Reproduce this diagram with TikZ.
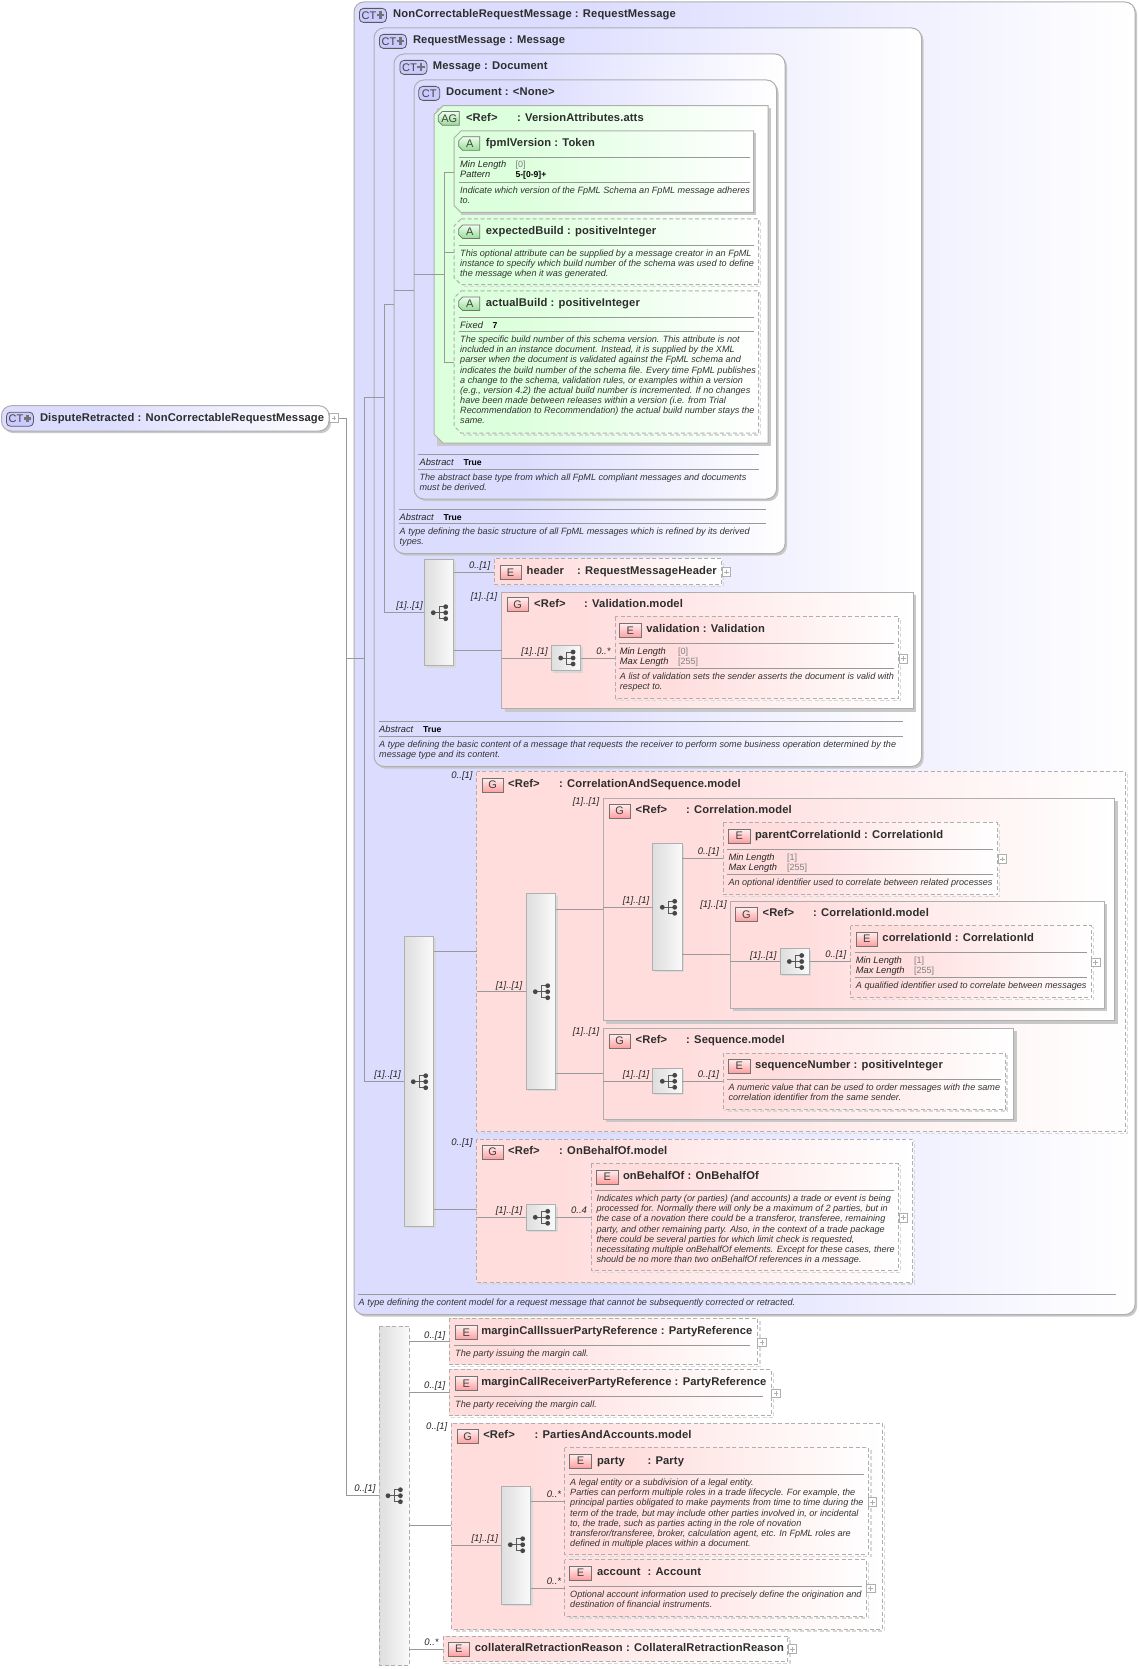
\documentclass[tikz,border=0pt]{standalone}
\usepackage{fontspec}
\setmainfont{Liberation Sans}
\newfontfamily\ttlfont[LetterSpace=1]{Liberation Sans}
\definecolor{ctc}{RGB}{220,220,255}
\definecolor{pkc}{RGB}{255,221,221}
\definecolor{grc}{RGB}{220,255,220}
\definecolor{lnc}{RGB}{153,153,153}
\definecolor{txc}{RGB}{45,45,45}
\definecolor{bdc}{RGB}{175,175,175}
\definecolor{shc}{RGB}{200,200,200}
\definecolor{agb}{RGB}{150,220,150}
\pgfdeclareverticalshading{ctsh}{100bp}{color(0bp)=(white);color(25bp)=(white);color(60bp)=(ctc);color(75bp)=(ctc);color(100bp)=(ctc)}
\pgfdeclareverticalshading{pksh}{100bp}{color(0bp)=(white);color(25bp)=(white);color(65bp)=(pkc);color(75bp)=(pkc);color(100bp)=(pkc)}
\pgfdeclareverticalshading{grsh}{100bp}{color(0bp)=(white);color(25bp)=(white);color(65bp)=(grc);color(75bp)=(grc);color(100bp)=(grc)}
\newcounter{auton}
\newcommand\nx{\stepcounter{auton}}
\tikzset{
 conn/.style={draw=lnc,line width=.8pt},
 dsh/.style={dash pattern=on 4pt off 2.5pt},
 sepl/.style={draw=lnc,line width=.8pt},
 ttl/.style={anchor=base west,inner sep=0pt,text=txc,font=\fontsize{11.2}{13}\ttlfont\bfseries},
 mult/.style={inner sep=0pt,text=black!85,font=\fontsize{9.5}{11}\selectfont\itshape},
 keyt/.style={anchor=base west,inner sep=0pt,text=black!85,font=\fontsize{9.3}{10.1}\selectfont\itshape},
 valg/.style={anchor=base west,inner sep=0pt,text=black!50,font=\fontsize{9}{10}\selectfont},
 valb/.style={anchor=base west,inner sep=0pt,text=black,font=\fontsize{8.6}{10}\selectfont\bfseries},
 dsct/.style={anchor=north west,inner sep=0pt,align=left,text=black!80,font=\fontsize{9.1}{10.1}\selectfont\itshape},
 badge/.style={anchor=north west,inner sep=0pt,minimum width=21.4pt,minimum height=14pt,text=black!75,font=\fontsize{11}{11}\selectfont},
 holder/.style={inner sep=0pt,outer sep=0pt}
}
% placeholder node carrying the name of a box
\newcommand\nm[5]{\pgfmathsetmacro\bw{#4-#2}\pgfmathsetmacro\bh{#5-#3}%
 \node[holder,anchor=north west,minimum width=\bw pt,minimum height=\bh pt] (#1) at (#2,#3) {};}
\newcommand\ctbox[5]{%
 \fill[shc,rounded corners=10pt] ({#2+2},{#3+2.2}) rectangle ({#4+2},{#5+2.2});
 \path[draw=bdc,line width=1pt,shade,shading=ctsh,shading angle=90,rounded corners=10pt] (#2,#3) rectangle (#4,#5);
 \nm{#1}{#2}{#3}{#4}{#5}}
\newcommand\gbox[5]{%
 \fill[shc] ({#2+3},{#3+3}) rectangle ({#4+3},{#5+3});
 \path[draw=bdc,line width=1pt,shade,shading=pksh,shading angle=90] (#2,#3) rectangle (#4,#5);
 \nm{#1}{#2}{#3}{#4}{#5}}
\newcommand\dbox[5]{%
 \draw[shc!70,line width=1.4pt,dsh] ({#2+2},{#3+2}) rectangle ({#4+2},{#5+2});
 \path[shade,shading=pksh,shading angle=90] (#2,#3) rectangle (#4,#5);
 \draw[bdc,line width=1pt,dsh] (#2,#3) rectangle (#4,#5);
 \nm{#1}{#2}{#3}{#4}{#5}}
\newcommand\chpath[5]{({#2+#1},#3) -- (#4,#3) -- (#4,#5) -- ({#2+#1},#5) -- (#2,{#5-#1}) -- (#2,{#3+#1}) -- cycle}
\newcommand\agbox[5]{%
 \fill[shc] ({#2+2.5},{#3+2.5}) rectangle ({#4+2.5},{#5+2.5});
 \path[draw=bdc,line width=1pt,shade,shading=grsh,shading angle=90] \chpath{9}{#2}{#3}{#4}{#5};
 \nm{#1}{#2}{#3}{#4}{#5}}
\newcommand\abox[5]{%
 \fill[shc] ({#2+7},{#3+2.5}) rectangle ({#4+2.5},{#5+2.5});
 \path[draw=bdc,line width=1pt,shade,shading=grsh,shading angle=90] \chpath{7}{#2}{#3}{#4}{#5};
 \nm{#1}{#2}{#3}{#4}{#5}}
\newcommand\adbox[5]{%
 \draw[shc!70,line width=1.4pt,dsh] ({#2+9},{#3+2}) -- ({#4+2},{#3+2}) -- ({#4+2},{#5+2}) -- ({#2+9},{#5+2});
 \path[shade,shading=grsh,shading angle=90] \chpath{7}{#2}{#3}{#4}{#5};
 \draw[bdc,line width=1pt,dsh] \chpath{7}{#2}{#3}{#4}{#5};
 \nm{#1}{#2}{#3}{#4}{#5}}
\newcommand\seqbox[5]{%
 \fill[shc!70] ({#2+2},{#3+2}) rectangle ({#4+2},{#5+2});
 \draw[bdc,line width=1pt,left color=black!13,right color=black!2] (#2,#3) rectangle (#4,#5);
 \nm{#1}{#2}{#3}{#4}{#5}}
\newcommand\seqdbox[5]{%
 \path[left color=black!13,right color=black!2] (#2,#3) rectangle (#4,#5);
 \draw[bdc,line width=1pt,dsh] (#2,#3) rectangle (#4,#5);
 \nm{#1}{#2}{#3}{#4}{#5}}
% sequence glyph at centre x,y
\newcommand\seqicon[2]{\begin{scope}[shift={(#1,#2)}]
 \draw[black!65,line width=.9pt] (-6.7,0) -- (5.7,0) (5.7,-6) -- (-.7,-6) -- (-.7,6) -- (5.7,6);
 \fill[black!72] (-6.7,0) circle (2.4pt) (5.7,-6) circle (2.4pt) (5.7,0) circle (2.4pt) (5.7,6) circle (2.4pt);
 \end{scope}}
\newcommand\plusb[2]{\draw[bdc,fill=white,line width=.7pt] ({#1-4.2},{#2-4.4}) rectangle ({#1+4.2},{#2+4.4});
 \draw[bdc,line width=.7pt] ({#1-2.4},#2) -- ({#1+2.4},#2) (#1,{#2-2.4}) -- (#1,{#2+2.4});}
\newcommand\ttl[3]{\nx\node[ttl] (n\theauton) at (#1,{#2+.4}) {#3};}
\newcommand\ttlg[5]{\nx\node[ttl] (n\theauton) at (#1,{#2+.4}) {#3};\nx\node[ttl] (n\theauton) at (#4,{#2+.4}) {#5};}
\newcommand\mlt[3]{\nx\node[mult] (n\theauton) at (#1,#2) {#3};}
\newcommand\dsc[3]{\nx\node[dsct] (n\theauton) at (#1,{#2-7.5}) {\rule{0pt}{7.5pt}#3};}
\newcommand\key[3]{\nx\node[keyt] (n\theauton) at (#1,#2) {#3};}
\newcommand\vg[3]{\nx\node[valg] (n\theauton) at (#1,#2) {#3};}
\newcommand\vb[3]{\nx\node[valb] (n\theauton) at (#1,#2) {#3};}
\newcommand\sep[3]{\draw[sepl] (#1,#3) -- (#2,#3);}
\newcommand\bE[3]{\nx\node[badge,draw=black!55,line width=.7pt,top color=pkc!45,bottom color=red!38] (n\theauton) at (#1,#2) {#3};}
\newcommand\bCT[4]{\nx\node[badge,draw=black!65,line width=.8pt,rounded corners=4pt,fill=ctc!92!blue,minimum width=#3pt,text=black!75] (n\theauton) at (#1,#2) {#4};}
\newcommand\plusg[2]{\draw[black!55,line width=2.4pt] ({#1-3.8+1},#2) -- ({#1+3.8+1},#2) ({#1+1},{#2-3.8}) -- ({#1+1},{#2+3.8});}
\newcommand\bA[3]{\path[draw=black!55,line width=.7pt,top color=grc!50,bottom color=agb] ({#1+4},#2) -- ({#1+21},#2) -- ({#1+21},{#2+13.6}) -- ({#1+4},{#2+13.6}) -- (#1,{#2+9.6}) -- (#1,{#2+4}) -- cycle;
 \nx\node[inner sep=0pt,text=black!75,font=\fontsize{11}{11}\selectfont] (n\theauton) at ({#1+11},{#2+6.8}) {#3};}
\begin{document}
\begin{tikzpicture}[x=1pt,y=-1pt]
\useasboundingbox (0,0) rectangle (1139,1669);
\fill[white] (0,0) rectangle (1139,1669);
% ---- boxes
\ctbox{disp}{1.5}{405.7}{329}{431}
\ctbox{ctA}{354}{2}{1135}{1314.5}
\ctbox{ctB}{374}{28}{921.5}{766.5}
\ctbox{ctC}{394}{54}{785}{553.5}
\ctbox{ctD}{414}{80}{776.5}{499}
\agbox{ag}{434}{105.7}{768}{443}
\abox{fpml}{454}{131}{753.6}{212.5}
\adbox{expb}{454}{219}{758.7}{284.6}
\adbox{actb}{454}{291}{758.7}{433}
\seqbox{sqA}{424}{559}{453.6}{665.7}
\dbox{hdr}{494}{558.7}{721.7}{584.3}
\gbox{gval}{501.5}{592}{913}{708.7}
\seqbox{sqB}{551}{645.3}{580.5}{670.7}
\dbox{vald}{615}{616.7}{898.5}{698.7}
\seqbox{sqC}{404}{936}{433.8}{1226}
\dbox{gcas}{476.6}{771.7}{1125.7}{1131.7}
\seqbox{sqD}{526}{893.7}{555.5}{1089.3}
\gbox{gcor}{603.4}{798}{1114.5}{1020.7}
\seqbox{sqE}{652.9}{843.7}{682.4}{970.3}
\dbox{pcid}{723}{822.7}{997.3}{894.7}
\gbox{gcid}{730.3}{901}{1104.3}{1008}
\seqbox{sqF}{780.3}{948.7}{809.3}{974}
\dbox{cid}{850.6}{925.7}{1091.6}{997.7}
\gbox{gseq}{603.4}{1028.3}{1013.6}{1119}
\seqbox{sqG}{652.9}{1068.3}{682.4}{1093.3}
\dbox{sqn}{723}{1053}{1005}{1109}
\dbox{gobo}{476.6}{1139.3}{912.7}{1282}
\seqbox{sqH}{526}{1204.7}{555.5}{1230}
\dbox{obo}{591.2}{1163.7}{898.5}{1270.3}
\seqdbox{sqI}{379}{1326}{409.3}{1665}
\dbox{iss}{449.6}{1318.3}{757.8}{1364.7}
\dbox{rcv}{449.6}{1369.3}{771.6}{1415.7}
\dbox{gpa}{451.4}{1423.3}{882.3}{1629}
\seqbox{sqJ}{501}{1486}{530.6}{1604.3}
\dbox{pty}{564.6}{1447.7}{868.9}{1554.3}
\dbox{acc}{564.6}{1559.7}{866.6}{1616}
\dbox{col}{443}{1636}{787.8}{1661.7}
% ---- connectors
\coordinate (jA) at (346.5,418);
\coordinate (jB) at (346.5,1495);
\coordinate (jC) at (346.5,658);
\coordinate (jD) at (364.5,658);
\coordinate (jE) at (364.5,397);
\coordinate (jF) at (364.5,1081.7);
\coordinate (jG) at (384.7,397);
\coordinate (jH) at (384.7,304);
\coordinate (jI) at (384.7,612.7);
\coordinate (jJ) at (444.4,274);
\coordinate (jK) at (444.4,172);
\coordinate (jL) at (444.4,362);
\coordinate (jM) at (444.4,252);
\draw[conn] (disp.east |- jA) -- (jA) -- (jB) -- (sqI.west |- jB);
\draw[conn] (jC) -- (jD);
\draw[conn] (jG) -- (jE) -- (jF) -- (sqC.west |- jF);
\draw[conn] (jH) -- (jI) -- (sqA.west |- jI);
\draw[conn] (jH) -- (ctC.west |- jH);
\draw[conn] (ctC.west |- 0,290.4) -- (ctD.west |- 0,290.4);
\draw[conn] (ctD.west |- jJ) -- (jJ);
\draw[conn] (jK) -- (jL);
\draw[conn] (jK) -- (fpml.west |- jK);
\draw[conn] (jM) -- (expb.west |- jM);
\draw[conn] (jL) -- (actb.west |- jL);
\draw[conn] (sqA.east |- 0,572.3) -- (hdr.west |- 0,572.3);
\draw[conn] (sqA.east |- 0,650.3) -- (gval.west |- 0,650.3);
\draw[conn] (gval.west |- 0,658.3) -- (sqB.west |- 0,658.3);
\draw[conn] (sqB.east |- 0,658.3) -- (vald.west |- 0,658.3);
\draw[conn] (sqC.east |- 0,951.7) -- (gcas.west |- 0,951.7);
\draw[conn] (sqC.east |- 0,1209.3) -- (gobo.west |- 0,1209.3);
\draw[conn] (gcas.west |- 0,991.3) -- (sqD.west |- 0,991.3);
\draw[conn] (sqD.east |- 0,909.3) -- (gcor.west |- 0,909.3);
\draw[conn] (sqD.east |- 0,1073.3) -- (gseq.west |- 0,1073.3);
\draw[conn] (gcor.west |- 0,907.3) -- (sqE.west |- 0,907.3);
\draw[conn] (sqE.east |- 0,858.3) -- (pcid.west |- 0,858.3);
\draw[conn] (sqE.east |- 0,954.3) -- (gcid.west |- 0,954.3);
\draw[conn] (gcid.west |- 0,961.5) -- (sqF.west |- 0,961.5);
\draw[conn] (sqF.east |- 0,961.5) -- (cid.west |- 0,961.5);
\draw[conn] (gseq.west |- 0,1081.3) -- (sqG.west |- 0,1081.3);
\draw[conn] (sqG.east |- 0,1081.3) -- (sqn.west |- 0,1081.3);
\draw[conn] (gobo.west |- 0,1217.3) -- (sqH.west |- 0,1217.3);
\draw[conn] (sqH.east |- 0,1217.3) -- (obo.west |- 0,1217.3);
\draw[conn] (sqI.east |- 0,1341.3) -- (iss.west |- 0,1341.3);
\draw[conn] (sqI.east |- 0,1392.3) -- (rcv.west |- 0,1392.3);
\draw[conn] (sqI.east |- 0,1525.3) -- (gpa.west |- 0,1525.3);
\draw[conn] (sqI.east |- 0,1649.3) -- (col.west |- 0,1649.3);
\draw[conn] (gpa.west |- 0,1545.3) -- (sqJ.west |- 0,1545.3);
\draw[conn] (sqJ.east |- 0,1501.3) -- (pty.west |- 0,1501.3);
\draw[conn] (sqJ.east |- 0,1588.3) -- (acc.west |- 0,1588.3);
% ---- seq glyphs
\seqicon{440}{612.7}\seqicon{567.4}{658}\seqicon{420}{1081.7}\seqicon{542}{991.7}
\seqicon{669}{907.3}\seqicon{796}{961.5}\seqicon{669}{1081.3}\seqicon{542}{1217.3}
\seqicon{394.7}{1495.7}\seqicon{517}{1544.7}
% ---- expand boxes
\plusb{334}{418}\plusb{726.3}{572}\plusb{903.5}{658.5}\plusb{1002.2}{859}\plusb{1095.8}{962.3}
\plusb{903.3}{1217.5}\plusb{762}{1342.3}\plusb{776}{1393.3}\plusb{872.5}{1502.2}\plusb{870.8}{1588.3}\plusb{792.6}{1649.2}
% ---- badges and titles
\bCT{6}{411.8}{27}{\hspace{-8pt}CT}\plusg{26.5}{418.6}
\ttl{39.8}{421}{DisputeRetracted : NonCorrectableRequestMessage}
\bCT{359}{8}{27}{\hspace{-8pt}CT}\plusg{379.5}{14.8}
\ttl{393}{17.5}{NonCorrectableRequestMessage : RequestMessage}
\bCT{379}{34}{27}{\hspace{-8pt}CT}\plusg{399.5}{40.8}
\ttl{412.8}{43}{RequestMessage : Message}
\bCT{399.5}{60}{27}{\hspace{-8pt}CT}\plusg{420}{66.8}
\ttl{432.7}{69}{Message : Document}
\bCT{418.4}{86}{21}{CT}
\ttl{446}{95}{Document : <None>}
\bA{438.3}{111.6}{AG}
\ttlg{465.8}{121}{<Ref>}{516.8}{: VersionAttributes.atts}
\bA{458.7}{136.8}{A}
\ttl{485.7}{146}{fpmlVersion : Token}
\sep{458.7}{750}{157}
\key{460}{168}{Min Length}\vg{515.3}{168}{[0]}
\key{460}{178}{Pattern}\vb{515.3}{178}{5-[0-9]+}
\sep{458.7}{750}{182}
\dsc{460}{193.5}{Indicate which version of the FpML Schema an FpML message adheres\\to.}
\bA{458.7}{225}{A}
\ttl{485.7}{234}{expectedBuild : positiveInteger}
\sep{458.7}{754}{245.4}
\dsc{460}{256.5}{This optional attribute can be supplied by a message creator in an FpML\\instance to specify which build number of the schema was used to define\\the message when it was generated.}
\bA{458.7}{297}{A}
\ttl{485.7}{306}{actualBuild : positiveInteger}
\sep{458.7}{754}{317}
\key{460}{328}{Fixed}\vb{492.3}{328}{7}
\sep{458.7}{754}{331.4}
\dsc{460}{342.5}{The specific build number of this schema version. This attribute is not\\included in an instance document. Instead, it is supplied by the XML\\parser when the document is validated against the FpML schema and\\indicates the build number of the schema file. Every time FpML publishes\\a change to the schema, validation rules, or examples within a version\\(e.g., version 4.2) the actual build number is incremented. If no changes\\have been made between releases within a version (i.e. from Trial\\Recommendation to Recommendation) the actual build number stays the\\same.}
% Document footer
\sep{418.4}{758.7}{454.3}
\key{419.4}{465}{Abstract}\vb{463.3}{465}{True}
\sep{418.4}{758.7}{469.3}
\dsc{419.4}{480.3}{The abstract base type from which all FpML compliant messages and documents\\must be derived.}
% Message footer
\sep{398.5}{765.8}{509.3}
\key{399.5}{520}{Abstract}\vb{443.4}{520}{True}
\sep{398.5}{765.8}{523.2}
\dsc{399.5}{534.5}{A type defining the basic structure of all FpML messages which is refined by its derived\\types.}
% header
\bE{499.5}{565}{E}
\ttlg{526.5}{574.3}{header}{577}{: RequestMessageHeader}
\mlt{479.6}{565.7}{0..[1]}
% validation
\mlt{484}{596.7}{[1]..[1]}\mlt{534.6}{652}{[1]..[1]}\mlt{603.4}{651.7}{0..*}\mlt{409.5}{606.5}{[1]..[1]}
\bE{506.6}{597.3}{G}
\ttlg{534}{607.3}{<Ref>}{584}{: Validation.model}
\bE{619.2}{623}{E}
\ttl{646.2}{632.3}{validation : Validation}
\sep{618.7}{894.4}{643.3}
\key{619.7}{654.5}{Min Length}\vg{677.8}{654.5}{[0]}
\key{619.7}{664.2}{Max Length}\vg{677.8}{664.2}{[255]}
\sep{618.7}{894.4}{668.3}
\dsc{619.7}{679.5}{A list of validation sets the sender asserts the document is valid with\\respect to.}
% RequestMessage footer
\sep{379}{903}{721.3}
\key{379}{732}{Abstract}\vb{423}{732}{True}
\sep{379}{903}{736}
\dsc{379}{747}{A type defining the basic content of a message that requests the receiver to perform some business operation determined by the\\message type and its content.}
% CorrelationAndSequence
\mlt{462}{776}{0..[1]}\mlt{387.5}{1075.5}{[1]..[1]}
\bE{481.7}{777.7}{G}
\ttlg{508}{787}{<Ref>}{559}{: CorrelationAndSequence.model}
\mlt{509}{985.7}{[1]..[1]}
\mlt{586}{802.3}{[1]..[1]}
\bE{608.5}{803.7}{G}
\ttlg{635.5}{813.3}{<Ref>}{686}{: Correlation.model}
\mlt{636}{901}{[1]..[1]}\mlt{708.4}{852.3}{0..[1]}
\bE{728.3}{828.7}{E}
\ttl{754.8}{838.3}{parentCorrelationId : CorrelationId}
\sep{727.3}{993.2}{849.3}
\key{728.3}{860.5}{Min Length}\vg{787}{860.5}{[1]}
\key{728.3}{870.5}{Max Length}\vg{787}{870.5}{[255]}
\sep{727.3}{993.2}{874.7}
\dsc{728.3}{885.5}{An optional identifier used to correlate between related processes}
\mlt{713.5}{905.3}{[1]..[1]}
\bE{735.4}{907}{G}
\ttlg{762.4}{916.3}{<Ref>}{812.9}{: CorrelationId.model}
\mlt{763.4}{956}{[1]..[1]}\mlt{835.8}{955.3}{0..[1]}
\bE{855.7}{931.7}{E}
\ttl{882.2}{941.3}{correlationId : CorrelationId}
\sep{854.7}{1087}{952.3}
\key{855.7}{963.5}{Min Length}\vg{913.8}{963.5}{[1]}
\key{855.7}{973.5}{Max Length}\vg{913.8}{973.5}{[255]}
\sep{854.7}{1087}{977.3}
\dsc{855.7}{988.5}{A qualified identifier used to correlate between messages}
\mlt{586}{1032.3}{[1]..[1]}
\bE{608.5}{1033.7}{G}
\ttlg{635.5}{1043.3}{<Ref>}{686}{: Sequence.model}
\mlt{636}{1075}{[1]..[1]}\mlt{708.4}{1075}{0..[1]}
\bE{728.3}{1058.7}{E}
\ttl{754.8}{1068.3}{sequenceNumber : positiveInteger}
\sep{727.3}{1000.9}{1079.3}
\dsc{728.3}{1090.5}{A numeric value that can be used to order messages with the same\\correlation identifier from the same sender.}
% OnBehalfOf
\mlt{462}{1143}{0..[1]}
\bE{481.7}{1144.7}{G}
\ttlg{508}{1154.3}{<Ref>}{559}{: OnBehalfOf.model}
\mlt{509}{1211}{[1]..[1]}\mlt{579}{1210.7}{0..4}
\bE{596.3}{1169.7}{E}
\ttl{622.8}{1179.3}{onBehalfOf : OnBehalfOf}
\sep{595.3}{894.4}{1190.3}
\dsc{596.3}{1201.5}{Indicates which party (or parties) (and accounts) a trade or event is being\\processed for. Normally there will only be a maximum of 2 parties, but in\\the case of a novation there could be a transferor, transferee, remaining\\party, and other remaining party. Also, in the context of a trade package\\there could be several parties for which limit check is requested,\\necessitating multiple onBehalfOf elements. Except for these cases, there\\should be no more than two onBehalfOf references in a message.}
% NonCorrectable footer
\sep{358.3}{1116}{1294}
\dsc{358.5}{1305.5}{A type defining the content model for a request message that cannot be subsequently corrected or retracted.}
% lower sequence
\mlt{364.9}{1489}{0..[1]}
\mlt{434.8}{1335.7}{0..[1]}
\bE{455.2}{1325}{E}
\ttl{481.1}{1334.3}{marginCallIssuerPartyReference : PartyReference}
\sep{454}{749.7}{1345.3}
\dsc{455}{1356.5}{The party issuing the margin call.}
\mlt{434.8}{1386}{0..[1]}
\bE{455.2}{1376}{E}
\ttl{481.1}{1385.3}{marginCallReceiverPartyReference : PartyReference}
\sep{454}{763.4}{1396.3}
\dsc{455}{1407.5}{The party receiving the margin call.}
\mlt{436.8}{1427.3}{0..[1]}
\bE{456.5}{1429}{G}
\ttlg{483.1}{1438.3}{<Ref>}{534.4}{: PartiesAndAccounts.model}
\mlt{484.7}{1539}{[1]..[1]}\mlt{554}{1494.7}{0..*}\mlt{554}{1581.7}{0..*}
\bE{569.4}{1453.7}{E}
\ttlg{596.8}{1463.7}{party}{647.3}{: Party}
\sep{568.5}{863.5}{1474.3}
\dsc{570}{1485.5}{A legal entity or a subdivision of a legal entity.\\Parties can perform multiple roles in a trade lifecycle. For example, the\\principal parties obligated to make payments from time to time during the\\term of the trade, but may include other parties involved in, or incidental\\to, the trade, such as parties acting in the role of novation\\transferor/transferee, broker, calculation agent, etc. In FpML roles are\\defined in multiple places within a document.}
\bE{569.4}{1565.7}{E}
\ttlg{596.8}{1575.3}{account}{647.3}{: Account}
\sep{568.5}{862}{1586.3}
\dsc{570}{1597.5}{Optional account information used to precisely define the origination and\\destination of financial instruments.}
\mlt{431.5}{1642}{0..*}
\bE{447.7}{1641.7}{E}
\ttlg{474.7}{1651.3}{collateralRetractionReason}{626}{: CollateralRetractionReason}
\end{tikzpicture}
\end{document}
